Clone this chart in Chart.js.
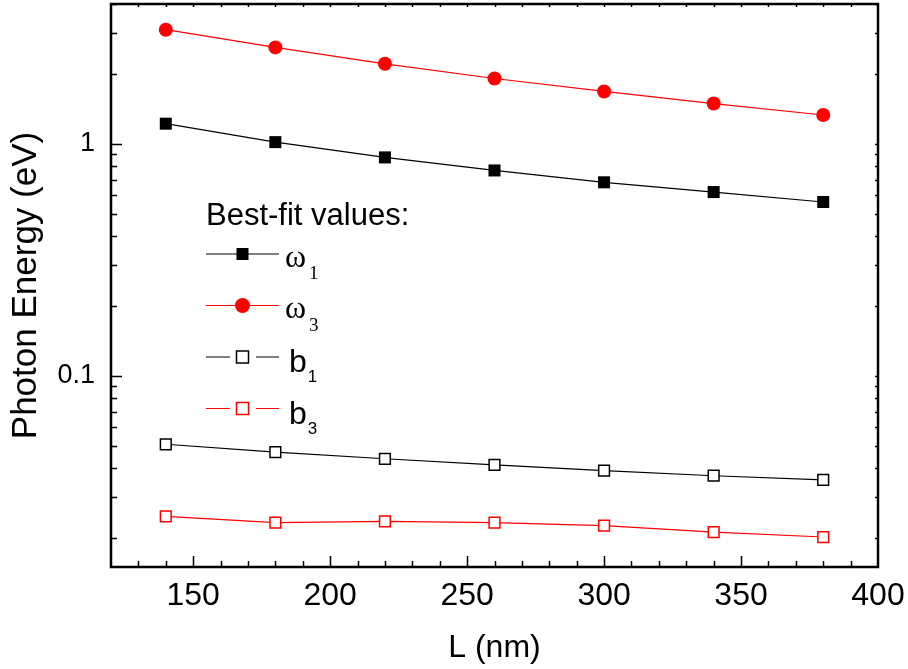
<!DOCTYPE html>
<html>
<head>
<meta charset="utf-8">
<script src="https://cdn.jsdelivr.net/npm/chart.js@4.4.1/dist/chart.umd.min.js"></script>
<style>
    html, body { margin: 0; padding: 0; background: #fff; }
    #wrap { width: 908px; height: 669px; }
</style>
</head>
<body>
<div id="wrap"><canvas id="energiaChart"></canvas></div>
<script>
// ========== DADOS ==========
const comprimentos = [140, 180, 220, 260, 300, 340, 380];
const omega1 = [1.22, 1.016, 0.873, 0.767, 0.682, 0.619, 0.561];
const omega3 = [3.10, 2.60, 2.21, 1.91, 1.68, 1.49, 1.33];
const b1 = [0.0507, 0.0469, 0.0439, 0.0413, 0.0390, 0.0371, 0.0356];
const b3 = [0.0248, 0.0233, 0.0236, 0.0233, 0.0226, 0.0212, 0.0202];

const xTicks = [150, 200, 250, 300, 350, 400];
const yTicks = [0.02, 0.03, 0.04, 0.05, 0.06, 0.07, 0.08, 0.09,
                0.1, 0.2, 0.3, 0.4, 0.5, 0.6, 0.7, 0.8, 0.9,
                1, 2, 3, 4];
const yTickLabels = [0.1, 1];
const legendNames = ['ω', 'ω', 'b', 'b'];
const legendSubs = ['1', '3', '1', '3'];

const SANS = '"Liberation Sans", Arial, sans-serif';
const SERIF = '"Liberation Serif", "Times New Roman", serif';

function pontos(ys) {
    return comprimentos.map((x, i) => ({ x: x, y: ys[i] }));
}

// ========== MOLDURA E TICKS ==========
const molduraPlugin = {
    id: 'moldura',
    afterDatasetsDraw(chart) {
        const ctx = chart.ctx;
        const a = chart.chartArea;
        const sx = chart.scales.x;
        const sy = chart.scales.y;
        ctx.save();
        ctx.strokeStyle = '#000';
        ctx.lineWidth = 1.5;
        ctx.beginPath();
        // x ticks (major a cada 50, minor a cada 10)
        for (let v = 130; v <= 390; v += 10) {
            const px = Math.round(sx.getPixelForValue(v)) + 0.5;
            const major = v % 50 === 0;
            ctx.moveTo(px, a.bottom);
            ctx.lineTo(px, a.bottom - (major ? 11 : 6));
            ctx.moveTo(px, a.top);
            ctx.lineTo(px, a.top + 3);
        }
        yTicks.forEach(v => {
            const py = Math.round(sy.getPixelForValue(v)) + 0.5;
            const major = yTickLabels.includes(v);
            ctx.moveTo(a.left, py);
            ctx.lineTo(a.left + (major ? 11 : 6), py);
            ctx.moveTo(a.right, py);
            ctx.lineTo(a.right - 3, py);
        });
        ctx.stroke();
        ctx.lineWidth = 2.5;
        ctx.strokeRect(a.left, a.top, a.right - a.left, a.bottom - a.top);
        ctx.restore();
    }
};

// ========== LEGENDA ==========
const legendaPlugin = {
    id: 'legendaCustom',
    afterDraw(chart) {
        const ctx = chart.ctx;
        ctx.save();
        ctx.fillStyle = '#000';
        ctx.font = '31px ' + SANS;
        ctx.textBaseline = 'alphabetic';
        ctx.fillText('Best-fit values:', 206, 225);

        const linhaY = [254, 305.5, 357, 408.5];
        chart.data.datasets.forEach((ds, i) => {
            const y = linhaY[i];
            const cor = ds.borderColor;
            const oco = ds.pointBackgroundColor === '#ffffff';
            ctx.strokeStyle = cor;
            ctx.lineWidth = 1.2;
            ctx.beginPath();
            if (oco) {
                ctx.moveTo(206, y); ctx.lineTo(230, y);
                ctx.moveTo(256, y); ctx.lineTo(279, y);
            } else {
                ctx.moveTo(206, y); ctx.lineTo(279, y);
            }
            ctx.stroke();
            if (ds.pointStyle === 'circle') {
                ctx.fillStyle = cor;
                ctx.beginPath();
                ctx.arc(242.5, y, 7.5, 0, Math.PI * 2);
                ctx.fill();
            } else if (oco) {
                ctx.fillStyle = '#fff';
                ctx.lineWidth = 1.5;
                ctx.fillRect(236.5, y - 6, 12, 12);
                ctx.strokeRect(236.5, y - 6, 12, 12);
            } else {
                ctx.fillStyle = cor;
                ctx.fillRect(236.5, y - 6, 12, 12);
            }

            ctx.fillStyle = '#000';
            if (legendNames[i] === 'ω') {
                ctx.font = '32px ' + SERIF;
                ctx.fillText(legendNames[i], 285, y + 12.5);
                const w = ctx.measureText(legendNames[i]).width;
                ctx.font = '19px ' + SERIF;
                ctx.fillText(legendSubs[i], 285 + w + 3, y + 25);
            } else {
                ctx.font = '32px ' + SANS;
                ctx.fillText(legendNames[i], 289, y + 15);
                const w = ctx.measureText(legendNames[i]).width;
                ctx.font = '17px ' + SANS;
                ctx.fillText(legendSubs[i], 289 + w + 1, y + 25);
            }
        });
        ctx.restore();
    }
};

// ========== GRÁFICO ==========
const ctxEnergia = document.getElementById('energiaChart');
const energiaChart = new Chart(ctxEnergia.getContext('2d'), {
    type: 'line',
    data: {
        datasets: [
            {
                label: 'ω1',
                data: pontos(omega1),
                borderColor: '#000000',
                backgroundColor: '#000000',
                pointBackgroundColor: '#000000',
                pointBorderColor: '#000000',
                pointStyle: 'rect',
                pointRadius: 8.5,
                pointBorderWidth: 0,
                borderWidth: 1.2
            },
            {
                label: 'ω3',
                data: pontos(omega3),
                borderColor: '#ff0000',
                backgroundColor: '#ff0000',
                pointBackgroundColor: '#ff0000',
                pointBorderColor: '#ff0000',
                pointStyle: 'circle',
                pointRadius: 7,
                pointBorderWidth: 0,
                borderWidth: 1.2
            },
            {
                label: 'b1',
                data: pontos(b1),
                borderColor: '#000000',
                backgroundColor: '#000000',
                pointBackgroundColor: '#ffffff',
                pointBorderColor: '#000000',
                pointStyle: 'rect',
                pointRadius: 7.6,
                pointBorderWidth: 1.5,
                borderWidth: 1.2
            },
            {
                label: 'b3',
                data: pontos(b3),
                borderColor: '#ff0000',
                backgroundColor: '#ff0000',
                pointBackgroundColor: '#ffffff',
                pointBorderColor: '#ff0000',
                pointStyle: 'rect',
                pointRadius: 7.6,
                pointBorderWidth: 1.5,
                borderWidth: 1.2
            }
        ]
    },
    options: {
        responsive: true,
        maintainAspectRatio: false,
        animation: false,
        layout: {
            autoPadding: false,
            padding: { left: 0, right: 30, top: 4, bottom: 0 }
        },
        plugins: {
            legend: { display: false },
            title: { display: false },
            tooltip: { enabled: false }
        },
        elements: { line: { tension: 0 } },
        scales: {
            x: {
                type: 'linear',
                min: 120,
                max: 400,
                grid: { display: false, drawTicks: false },
                border: { display: false },
                afterBuildTicks: function(scale) {
                    scale.ticks = xTicks.map(v => ({ value: v }));
                },
                afterFit: function(scale) {
                    scale.height = 102;
                    scale.paddingLeft = 0;
                    scale.paddingRight = 0;
                },
                ticks: {
                    autoSkip: false,
                    maxRotation: 0,
                    padding: 10,
                    color: '#000',
                    font: { size: 32, family: SANS },
                    callback: function(value) { return String(value); }
                },
                title: {
                    display: true,
                    text: 'L (nm)',
                    color: '#000',
                    font: { size: 32, family: SANS },
                    padding: { top: 0, bottom: 2 }
                }
            },
            y: {
                type: 'logarithmic',
                min: 0.015,
                max: 4,
                grid: { display: false, drawTicks: false },
                border: { display: false },
                afterBuildTicks: function(scale) {
                    scale.ticks = yTicks.map(v => ({ value: v }));
                },
                afterFit: function(scale) {
                    scale.width = 111;
                    scale.paddingTop = 0;
                    scale.paddingBottom = 0;
                },
                ticks: {
                    autoSkip: false,
                    padding: 16,
                    color: '#000',
                    font: { size: 27, family: SANS },
                    callback: function(value) {
                        return yTickLabels.includes(value) ? String(value) : '';
                    }
                },
                title: {
                    display: true,
                    text: 'Photon Energy (eV)',
                    color: '#000',
                    font: { size: 35, family: SANS },
                    padding: { top: 5, bottom: 0 }
                }
            }
        }
    },
    plugins: [molduraPlugin, legendaPlugin]
});
</script>
</body>
</html>
